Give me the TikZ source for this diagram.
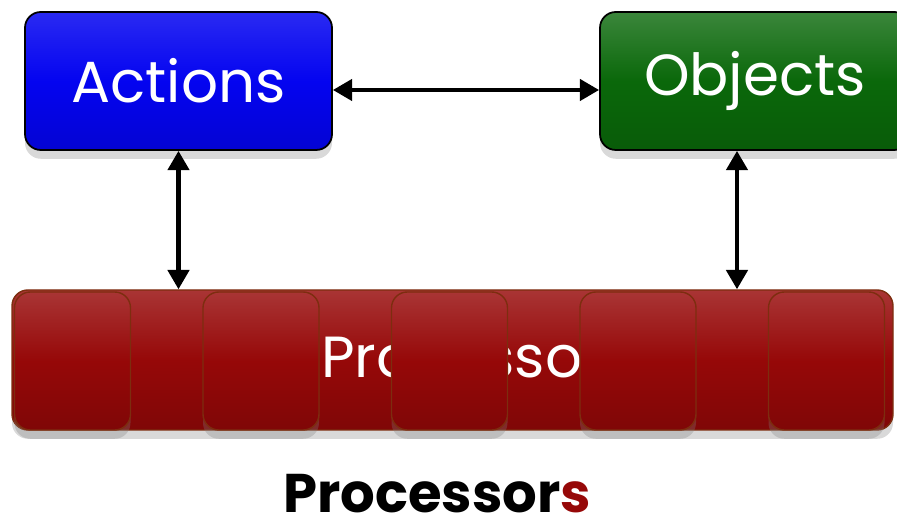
\documentclass[tikz,border=0pt]{standalone}
\usepackage{fontspec}
\setmainfont{Poppins}
\usetikzlibrary{arrows.meta,positioning,shadows}
\definecolor{actblue}{RGB}{4,4,240}
\definecolor{objgreen}{RGB}{10,104,10}
\definecolor{procred}{RGB}{150,8,8}
\definecolor{rimred}{RGB}{125,45,15}

\begin{document}
\begin{tikzpicture}[
    every node/.style={font=\fontsize{33}{40}\selectfont},
    card/.style={rounded corners=9pt, draw=black, line width=1pt, text=white,
      minimum height=2.76cm, inner sep=0pt,
      drop shadow={opacity=0.3,shadow xshift=0pt,shadow yshift=-5pt}},
    core/.style={rounded corners=9pt, draw=rimred, line width=0.8pt,
      top color=procred!82!white, bottom color=procred!85!black, middle color=procred,
      minimum width=2.32cm, minimum height=2.76cm, inner sep=0pt,
      drop shadow={opacity=0.3,shadow xshift=0pt,shadow yshift=-5pt}},
    link/.style={{Triangle[length=11pt,width=12pt]}-{Triangle[length=11pt,width=12pt]},
      line width=2.5pt}
  ]
  \useasboundingbox (0,0) rectangle (17.94,10.6);

  % the two top boxes
  \node[card, minimum width=6.14cm, top color=actblue!85!white, bottom color=actblue!88!black,
        middle color=actblue] (acts) at (3.57,8.98) {Actions};
  \node[card, minimum width=6.2cm, top color=objgreen!80!white, bottom color=objgreen!88!black,
        middle color=objgreen] (objs) at (15.1,8.98) {Objects};

  % processor bar with its label underneath the cores
  \node[core, minimum width=17.62cm, minimum height=2.8cm] (bar) at (9.05,3.4) {};
  \node[text=white, anchor=base west, font=\fontsize{33}{40}\selectfont] (barlbl)
    at (6.3,3.04) {Processor};

  % five cores on top of the bar
  \foreach \i in {0,...,4} {
    \node[core] (core\i) at ({1.45+3.77*\i},3.38) {};
  }

  % connectors
  \draw[link] ([yshift=-0.18cm]acts.east) -- ([yshift=-0.18cm]objs.west -| objs.west);
  \draw[link] (acts.south) -- (acts.south |- bar.north);
  \coordinate (objfoot) at ([xshift=-0.36cm]objs.south);
  \draw[link] (objfoot) -- (objfoot |- bar.north);

  % caption
  \node[font=\fontsize{31}{38}\selectfont\bfseries] (caption) at (8.74,0.72)
    {Processor\textcolor{procred}{s}};
\end{tikzpicture}
\end{document}
